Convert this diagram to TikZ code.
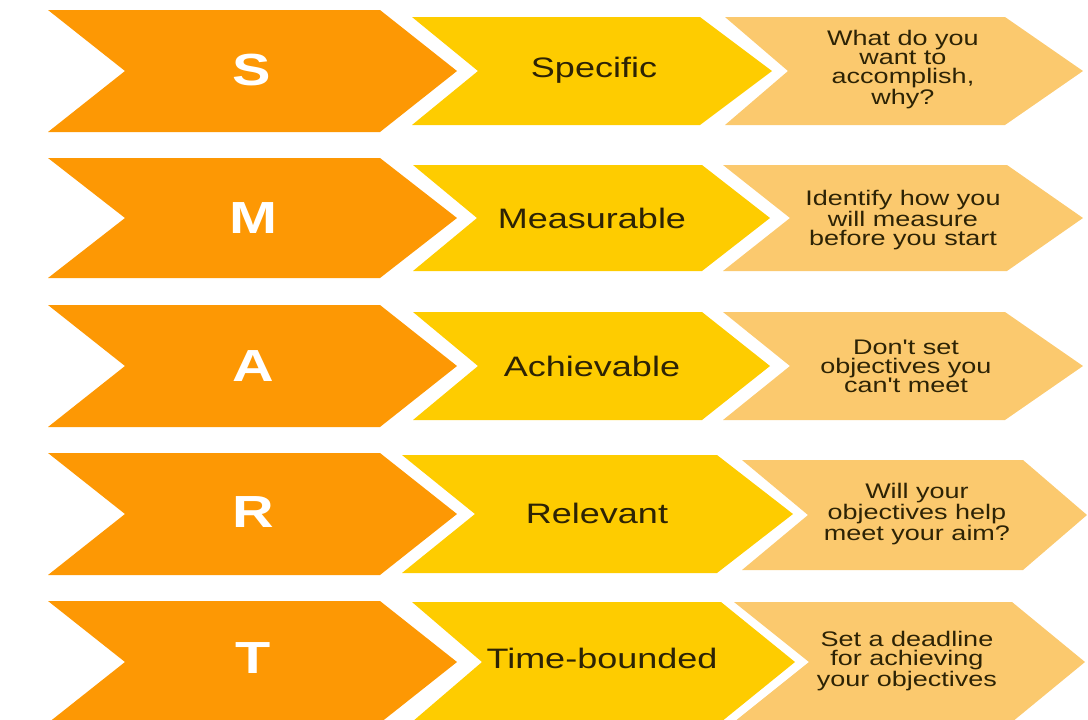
\documentclass[tikz,border=0pt]{standalone}
\usepackage{fontspec}
\newfontfamily\smartfont[FakeStretch=1.28]{Liberation Sans}
\usepackage{tikz}
\newcommand{\chevron}[7][]{
  \fill [#1] (#2,#6-#7) -- (#4,#6-#7) -- (#5,#6) -- (#4,#6+#7) -- (#2,#6+#7) -- (#3,#6) -- cycle;
}
\definecolor{orangefonce}{RGB}{253,152,4}
\definecolor{jaune}{RGB}{254,204,0}
\definecolor{jaunepale}{RGB}{251,201,110}
\definecolor{encre}{RGB}{45,35,5}
\tikzset{
  lettre/.style={text=white, font=\smartfont\bfseries\fontsize{32}{34}\selectfont},
  mot/.style={text=encre, font=\smartfont\fontsize{20}{22}\selectfont},
  conseil/.style={text=encre, align=center, inner sep=0pt, font=\smartfont\fontsize{15}{13.5}\selectfont}
}

\begin{document}
\begin{tikzpicture}[x=0.025cm, y=-0.025cm]
    \useasboundingbox (0,0) rectangle (1088,719);

    %chevrons oranges
    \chevron[orangefonce]{48}{125}{380}{457}{71}{61}
    \chevron[orangefonce]{48}{125}{380}{457}{218}{60}
    \chevron[orangefonce]{48}{125}{380}{457}{366}{61}
    \chevron[orangefonce]{48}{125}{380}{457}{514}{61}
    \chevron[orangefonce]{48}{125}{380}{457}{662}{61}

    %chevrons jaunes
    \chevron[jaune]{412}{478}{700}{772}{71}{54}
    \chevron[jaune]{413}{477}{702}{770}{218}{53}
    \chevron[jaune]{413}{478}{702}{770}{366}{54}
    \chevron[jaune]{402}{475}{717}{793}{514}{59}
    \chevron[jaune]{412}{482}{721}{795}{662}{60}

    %chevrons pales
    \chevron[jaunepale]{725}{788}{1005}{1083}{71}{54}
    \chevron[jaunepale]{723}{790}{1007}{1083}{218}{53}
    \chevron[jaunepale]{723}{790}{1005}{1083}{366}{54}
    \chevron[jaunepale]{742}{808}{1023}{1087}{515}{55}
    \chevron[jaunepale]{734}{809}{1012}{1085}{662}{60}

    %lettres
    \node [lettre] (s) at (252,70) {S};
    \node [lettre] (m) at (253,218) {M};
    \node [lettre] (a) at (253,366) {A};
    \node [lettre] (r) at (253,512) {R};
    \node [lettre] (t) at (253,658) {T};

    %mots
    \node [mot] (specific) at (594,70) {Specific};
    \node [mot] (measurable) at (592,218) {Measurable};
    \node [mot] (achievable) at (592,366) {Achievable};
    \node [mot] (relevant) at (597,513) {Relevant};
    \node [mot] (timebounded) at (602,658) {Time-bounded};

    %conseils
    \node [conseil] (quoi) at (903,70) {What do you\\want to\\accomplish,\\why?};
    \node [conseil] (mesure) at (903,220) {Identify how you\\will measure\\before you start};
    \node [conseil] (atteindre) at (906,366) {Don't set\\objectives you\\can't meet};
    \node [conseil] (but) at (917,514) {Will your\\objectives help\\meet your aim?};
    \node [conseil] (delai) at (907,661) {Set a deadline\\for achieving\\your objectives};
\end{tikzpicture}
\end{document}
